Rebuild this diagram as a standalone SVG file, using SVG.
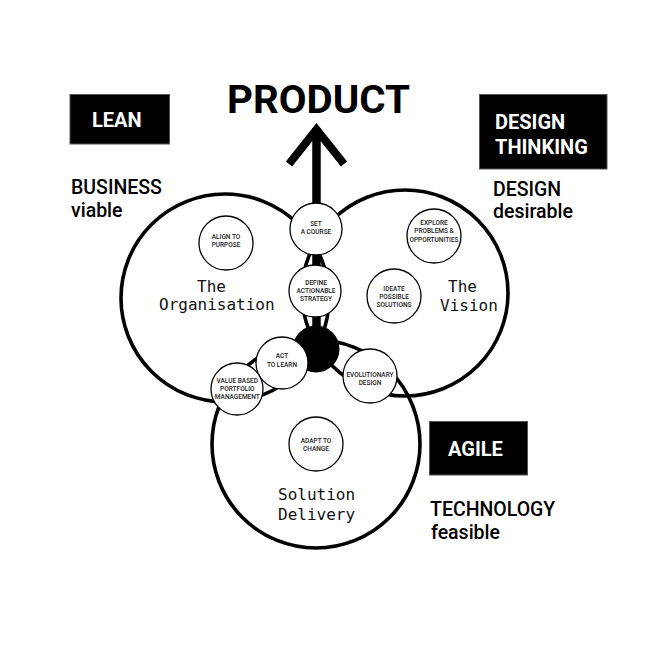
<svg xmlns="http://www.w3.org/2000/svg" width="661" height="661" viewBox="0 0 661 661">
<style>
.big{fill:none;stroke:#000;stroke-width:3.6}
.sm{fill:#fff;stroke:#000;stroke-width:1.3}
.mono{font-family:"DejaVu Sans Mono","Liberation Mono",monospace;font-size:16px;fill:#111}
.lbl{font-family:Roboto,"Liberation Sans",Arial,sans-serif;font-size:6.5px;font-weight:500;fill:#222;text-anchor:middle}
.box{fill:#000;stroke:#555;stroke-width:1}
.boxt{font-family:Roboto,"Liberation Sans",Arial,sans-serif;font-size:20px;font-weight:700;fill:#fff}
.cap{font-family:Roboto,"Liberation Sans",Arial,sans-serif;font-size:19.5px;font-weight:500;fill:#000}
</style>
<rect width="661" height="661" fill="#fff"/>
<g id="organisation">
<circle class="big" cx="225" cy="298" r="104"/>
<text class="mono" x="197" y="292">The</text>
<text class="mono" x="159" y="310">Organisation</text>
</g>
<g id="vision">
<circle class="big" cx="405" cy="293" r="103"/>
<text class="mono" x="448" y="292">The</text>
<text class="mono" x="440" y="311">Vision</text>
</g>
<g id="solution-delivery">
<circle class="big" cx="316" cy="444" r="104"/>
<text class="mono" x="278" y="500">Solution</text>
<text class="mono" x="278" y="520">Delivery</text>
</g>
<g id="connectors">
<line x1="316.5" y1="128" x2="316.5" y2="348" stroke="#000" stroke-width="8.5"/>
<path d="M289,164 L316.5,129.5 L344,164" fill="none" stroke="#000" stroke-width="8" stroke-linejoin="miter"/>
</g>
<g id="product">
<text x="227" y="113" font-family="Roboto,'Liberation Sans',Arial,sans-serif" font-size="38" font-weight="700" textLength="183" lengthAdjust="spacingAndGlyphs" fill="#000">PRODUCT</text>
</g>
<g id="set-course">
<circle class="sm" cx="316" cy="229" r="26"/>
<text class="lbl" x="316" y="226">SET</text>
<text class="lbl" x="316" y="234">A COURSE</text>
</g>
<g id="define-strategy">
<circle class="sm" cx="315" cy="291" r="26"/>
<text class="lbl" x="316" y="285">DEFINE</text>
<text class="lbl" x="316" y="293.3">ACTIONABLE</text>
<text class="lbl" x="316" y="301.3">STRATEGY</text>
</g>
<g id="hub">
<circle cx="316" cy="349" r="23.5" fill="#000"/>
</g>
<g id="act-to-learn">
<circle class="sm" cx="282" cy="363" r="26"/>
<text class="lbl" x="282" y="358.3">ACT</text>
<text class="lbl" x="282" y="366.7">TO LEARN</text>
</g>
<g id="value-portfolio">
<circle class="sm" cx="237" cy="389" r="26"/>
<text class="lbl" x="237.3" y="383.3">VALUE BASED</text>
<text class="lbl" x="237.3" y="391">PORTFOLIO</text>
<text class="lbl" x="237.3" y="398.7">MANAGEMENT</text>
</g>
<g id="evolutionary-design">
<circle class="sm" cx="370" cy="376" r="27"/>
<text class="lbl" x="370" y="377.3">EVOLUTIONARY</text>
<text class="lbl" x="370" y="385.3">DESIGN</text>
</g>
<g id="align-purpose">
<circle class="sm" cx="226" cy="243" r="27"/>
<text class="lbl" x="226" y="239.3">ALIGN TO</text>
<text class="lbl" x="226" y="247.3">PURPOSE</text>
</g>
<g id="explore">
<circle class="sm" cx="434" cy="236" r="27"/>
<text class="lbl" x="434" y="225">EXPLORE</text>
<text class="lbl" x="434" y="233.3">PROBLEMS &amp;</text>
<text class="lbl" x="434" y="241.7">OPPORTUNITIES</text>
</g>
<g id="ideate">
<circle class="sm" cx="394" cy="296" r="27"/>
<text class="lbl" x="394" y="291">IDEATE</text>
<text class="lbl" x="394" y="299.3">POSSIBLE</text>
<text class="lbl" x="394" y="307.3">SOLUTIONS</text>
</g>
<g id="adapt">
<circle class="sm" cx="316" cy="444" r="27"/>
<text class="lbl" x="316" y="442.7">ADAPT TO</text>
<text class="lbl" x="316" y="450.7">CHANGE</text>
</g>
<g id="lean">
<rect class="box" x="70" y="94.5" width="99.5" height="49.5"/>
<text class="boxt" x="92" y="127">LEAN</text>
<text class="cap" x="71" y="194">BUSINESS</text>
<text class="cap" x="71" y="217">viable</text>
</g>
<g id="design-thinking">
<rect class="box" x="479.5" y="94.5" width="127.5" height="74.5"/>
<text class="boxt" x="495" y="129">DESIGN</text>
<text class="boxt" x="495" y="154">THINKING</text>
<text class="cap" x="493" y="196">DESIGN</text>
<text class="cap" x="493" y="218">desirable</text>
</g>
<g id="agile">
<rect class="box" x="429.5" y="421.5" width="98" height="53.5"/>
<text class="boxt" x="448" y="456">AGILE</text>
<text class="cap" x="430" y="516">TECHNOLOGY</text>
<text class="cap" x="431" y="539">feasible</text>
</g>
</svg>
